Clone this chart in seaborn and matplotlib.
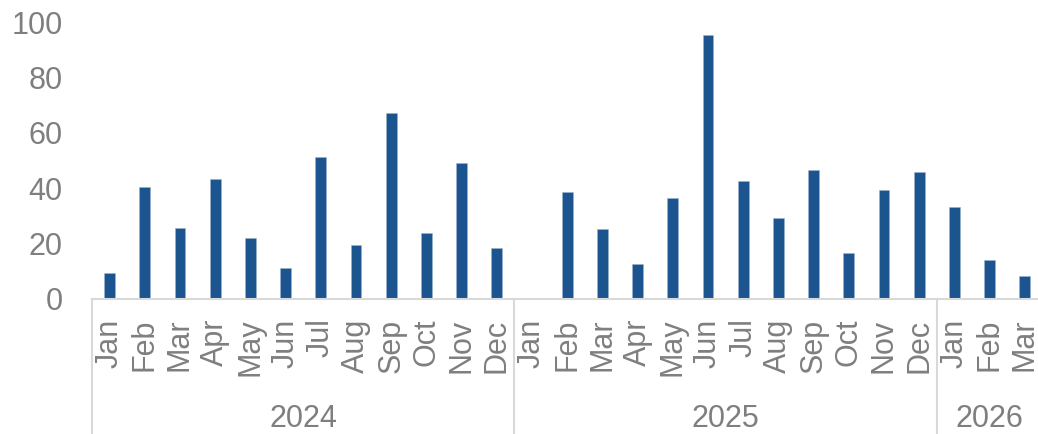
import matplotlib
matplotlib.use("Agg")
import matplotlib.pyplot as plt
import matplotlib.transforms as mtransforms
import seaborn as sns
import pandas as pd

# ---- data ----
years = ["2024", "2025", "2026"]
months_per_year = [12, 12, 3]
month_names = ["Jan", "Feb", "Mar", "Apr", "May", "Jun",
               "Jul", "Aug", "Sep", "Oct", "Nov", "Dec"]
values_2024 = [9.5, 40.5, 25.6, 43.3, 21.9, 11.3, 51.3, 19.4, 67.0, 23.9, 49.0, 18.3]
values_2025 = [0, 38.5, 25.4, 12.5, 36.3, 95.3, 42.7, 29.1, 46.5, 16.5, 39.4, 45.7]
values_2026 = [33.1, 14.2, 8.4]
y_ticks = [0, 20, 40, 60, 80, 100]

# ---- table ----
all_values = values_2024 + values_2025 + values_2026
labels, keys, year_col = [], [], []
for y, n in zip(years, months_per_year):
    for m in month_names[:n]:
        labels.append(m)
        keys.append(f"{m} {y}")
        year_col.append(y)
df = pd.DataFrame({"key": keys, "month": labels, "year": year_col, "value": all_values})

sns.set_theme(style="white")
plt.rcParams["font.family"] = ["Liberation Sans", "DejaVu Sans"]

W, H = 1038, 434
fig = plt.figure(figsize=(W / 100, H / 100), dpi=100)
ax = fig.add_axes([92 / W, (H - 299) / H, 950.4 / W, 277 / H])

bar_color = "#1B548F"
text_color = "#7F7F7F"
line_color = "#D9D9D9"

sns.barplot(data=df, x="key", y="value", order=keys, color=bar_color,
            width=0.31, saturation=1, ax=ax, edgecolor="#9bb3cf", linewidth=0.4)

ax.set_xlim(-0.5, len(keys) - 0.5)
ax.set_ylim(0, 100)
ax.set_yticks(y_ticks)
ax.set_yticklabels([str(t) for t in y_ticks])
ax.set_xticks(range(len(keys)))
ax.set_xticklabels(labels, rotation=90, va="top", ha="center")
ax.tick_params(axis="x", length=0, pad=14, labelsize=22, labelcolor=text_color)
ax.tick_params(axis="y", length=0, pad=21, labelsize=22, labelcolor=text_color)
ax.set_xlabel("")
ax.set_ylabel("")
for s in ["top", "right", "left"]:
    ax.spines[s].set_visible(False)
ax.spines["bottom"].set_color(line_color)
ax.spines["bottom"].set_linewidth(1.5)

# group separators and year labels
trans = mtransforms.blended_transform_factory(ax.transData, ax.transAxes)
bottom_axes = -299 / 277 - 0.01
start = -0.5
bounds = [start]
for n in months_per_year:
    bounds.append(bounds[-1] + n)
for b in bounds:
    ax.plot([b, b], [0, bottom_axes], transform=trans, color=line_color,
            lw=1.5, clip_on=False)
for i, y in enumerate(years):
    center = (bounds[i] + bounds[i + 1]) / 2
    ax.text(center, -(419 - 299) / 277, y, transform=trans, ha="center",
            va="center", fontsize=22, color=text_color)

fig.savefig("out.png", dpi=100)
